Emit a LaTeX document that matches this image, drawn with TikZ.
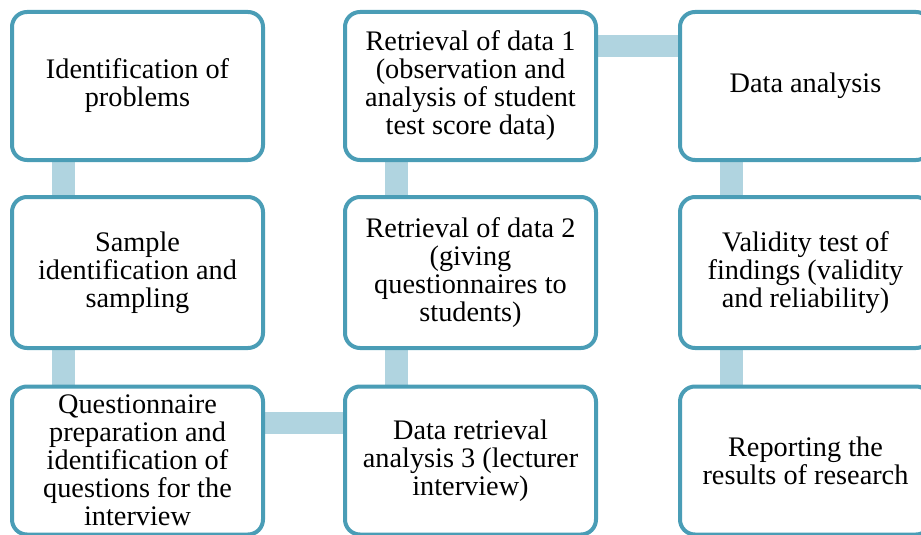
\documentclass[tikz,border=0pt]{standalone}
\usepackage{fontspec}
\setmainfont{Liberation Serif}
\usetikzlibrary{backgrounds}
\definecolor{bord}{RGB}{74,157,182}
\definecolor{connc}{RGB}{176,212,224}
\begin{document}
\begin{tikzpicture}[x=1pt,y=-1pt,
  stepbox/.style={draw=bord, line width=4pt, rounded corners=15pt, fill=white,
    minimum width=251pt, minimum height=148pt, inner sep=0pt, align=center,
    font=\fontsize{28.3}{28}\selectfont},
  tallbox/.style={stepbox, minimum height=151pt},
  link/.style={draw=connc, line width=22.5pt}]
\useasboundingbox (0,0) rectangle (921,535);
% column 1
\node[stepbox] (p1) at (137.5,86) {Identification of\\problems};
\node[tallbox] (p2) at (137.5,272.5) {Sample\\identification and\\sampling};
\node[stepbox] (p3) at (137.5,460.5) {Questionnaire\\preparation and\\identification of\\questions for the\\interview};
% column 2
\node[stepbox] (d1) at (470.5,86) {Retrieval of data 1\\(observation and\\analysis of student\\test score data)};
\node[tallbox] (d2) at (470.5,272.5) {Retrieval of data 2\\(giving\\questionnaires to\\students)};
\node[stepbox] (d3) at (470.5,460.5) {Data retrieval\\analysis 3 (lecturer\\interview)};
% column 3
\node[stepbox] (da) at (805.5,86) {Data analysis};
\node[tallbox] (vt) at (805.5,272.5) {Validity test of\\findings (validity\\and reliability)};
\node[stepbox] (rr) at (805.5,460.5) {Reporting the\\results of research};
\begin{pgfonlayer}{background}
\draw[link] ([xshift=-74pt]p1.south) -- ([xshift=-74pt]p2.north);
\draw[link] ([xshift=-74pt]p2.south) -- ([xshift=-74pt]p3.north);
\draw[link] ([yshift=37.5pt]p3.east) -- ([yshift=37.5pt]d3.west);
\draw[link] ([xshift=-74pt]d3.north) -- ([xshift=-74pt]d2.south);
\draw[link] ([xshift=-74pt]d2.north) -- ([xshift=-74pt]d1.south);
\draw[link] ([yshift=40pt]d1.east) -- ([yshift=40pt]da.west);
\draw[link] ([xshift=-74pt]da.south) -- ([xshift=-74pt]vt.north);
\draw[link] ([xshift=-74pt]vt.south) -- ([xshift=-74pt]rr.north);
\end{pgfonlayer}
\end{tikzpicture}
\end{document}
